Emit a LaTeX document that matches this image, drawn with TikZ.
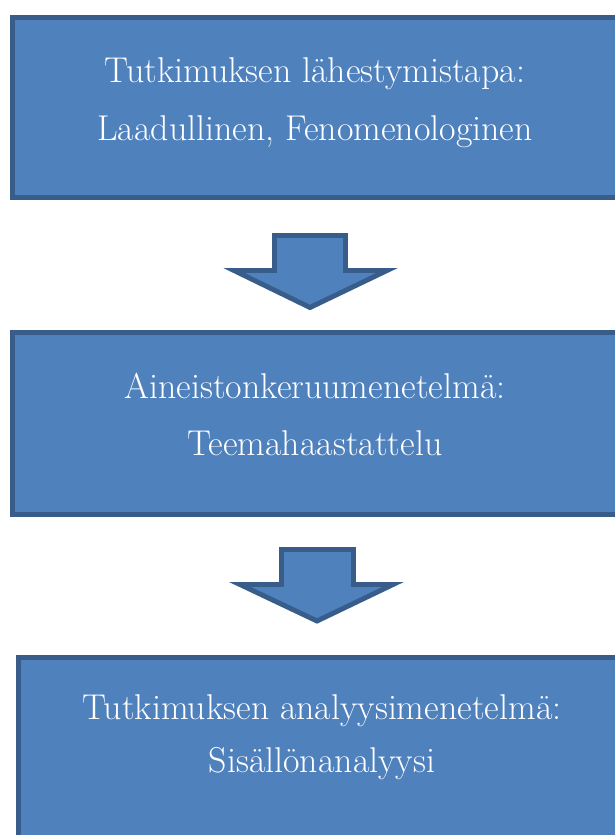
\documentclass[tikz,border=0pt]{standalone}
\usepackage{xcolor}
\definecolor{boxfill}{HTML}{4F81BD}
\definecolor{boxline}{HTML}{385D8A}

\begin{document}
\begin{tikzpicture}[x=0.025cm,y=-0.025cm,
		box/.style={draw=boxline, fill=boxfill, line width=3.5pt, rectangle, inner sep=0pt},
		blockarrow/.style={draw=boxline, fill=boxfill, line width=3.5pt},
		line/.style={text=white, font=\fontsize{25.5}{30}\selectfont, anchor=base, inner sep=0pt}]
		\useasboundingbox (0,0) rectangle (615,835);
		\clip (0,0) rectangle (615,835);
		
		\node[box, minimum width=15.19cm, minimum height=4.5cm] (lahestymistapa) at (316.25,107.5) {};
		\node[box, minimum width=15.19cm, minimum height=4.55cm] (keruu) at (316.25,423.5) {};
		\node[box, minimum width=15.24cm, minimum height=5.06cm] (analyysi) at (323.25,758.75) {};
		
		\node[line] (l1) at (315,82) {Tutkimuksen lähestymistapa:};
		\node[line] (l2) at (315,140) {Laadullinen, Fenomenologinen};
		\node[line] (k1) at (315,398) {Aineistonkeruumenetelmä:};
		\node[line] (k2) at (315,455) {Teemahaastattelu};
		\node[line] (a1) at (322,719) {Tutkimuksen analyysimenetelmä:};
		\node[line] (a2) at (322,772) {Sisällönanalyysi};
		
		% nuolet
		\draw[blockarrow] (274.5,235.5) -- (345.5,235.5) -- (345.5,270.5) -- (387,270.5) -- (310,307.5) -- (234,270.5) -- (274.5,270.5) -- cycle;
		\draw[blockarrow] (281.5,549.5) -- (353.5,549.5) -- (353.5,584.5) -- (393,584.5) -- (317,621) -- (240,584.5) -- (281.5,584.5) -- cycle;
		
		\end{tikzpicture}
\end{document}
